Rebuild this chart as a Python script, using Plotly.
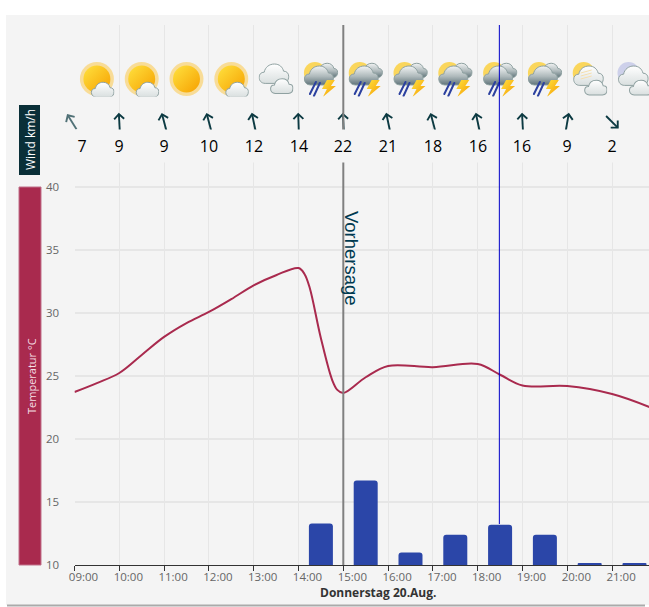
import base64
import plotly.graph_objects as go

DAY = "2020-08-20 "
# temperature curve
temp_times = ["09:00","09:30","10:00","10:30","11:00","11:30","12:00","12:30","13:00","13:30","14:00","14:08","14:15","14:30","14:45","14:52","15:00","15:30","16:00","17:00","18:00","18:30","19:00","20:00","21:00","21:50"]
temp_values = [23.73,24.44,25.24,26.67,28.1,29.2,30.08,31.1,32.2,33.0,33.57,33.1,32.0,28.0,24.7,23.9,23.65,24.9,25.8,25.7,25.95,25.1,24.25,24.2,23.57,22.54]
# precipitation bars
rain_times = ["14:30","15:30","16:30","17:30","18:30","19:30","20:30","21:30"]
rain_values = [3.3,6.7,1.0,2.4,3.2,2.4,0.15,0.15]
# wind row
wind_times = ["09:00","10:00","11:00","12:00","13:00","14:00","15:00","16:00","17:00","18:00","19:00","20:00","21:00"]
wind_speed = [7,9,9,10,12,14,22,21,18,16,16,9,2]
wind_angle = [-32,-3,-15,-15,-12,-2,-3,-12,-15,-12,-3,10,135]
# weather icons
icon_times = ["09:30","10:30","11:30","12:30","13:30","14:30","15:30","16:30","17:30","18:30","19:30","20:30","21:30"]
icon_kinds = ["partly","partly","sun","partly","cloud","storm","storm","storm","storm","storm","storm","haze","moon"]
tick_times = ["09:00","10:00","11:00","12:00","13:00","14:00","15:00","16:00","17:00","18:00","19:00","20:00","21:00"]
temp_ticks = [10,15,20,25,30,35,40]

W, H = 649, 607
PX_HOUR = 44.8
X0 = 74.5
Y_BOT, Y_TOP = 565, 25
PX_DEG = 12.6
def py(p): return 1 - p / H
def t(s): return DAY + s + ":00"
MS = 3600000 / PX_HOUR   # ms per pixel

DEFS = '''<defs>
<linearGradient id="s" x1="0" y1="0" x2="1" y2="1"><stop offset="0" stop-color="#ffe23f"/><stop offset="1" stop-color="#f6a000"/></linearGradient>
<linearGradient id="c" x1="0" y1="0" x2="0" y2="1"><stop offset="0" stop-color="#ffffff"/><stop offset="1" stop-color="#d9dfdf"/></linearGradient>
<linearGradient id="d" x1="0" y1="0" x2="0" y2="1"><stop offset="0" stop-color="#f2f4f4"/><stop offset="0.55" stop-color="#aeb9bb"/><stop offset="1" stop-color="#5f7379"/></linearGradient>
<linearGradient id="l" x1="0" y1="0" x2="1" y2="1"><stop offset="0" stop-color="#ffe23f"/><stop offset="1" stop-color="#f59a00"/></linearGradient>
</defs>'''
CLOUD = "M6 20 C2 20 0 17 0 14 C0 11 2 9 5 9 C6 4 10 1 15 1 C20 1 23 4 24 8 C27 8 29 10 29 13 C29 17 27 20 23 20 Z"
def cloud(tx, ty, s, fill="url(#c)", sw=1.0):
    return f'<g transform="translate({tx} {ty}) scale({s})"><path d="{CLOUD}" fill="{fill}" stroke="#8fa1a1" stroke-width="{sw/s:.2f}"/></g>'
def svg_icon(kind):
    b = ""
    if kind in ("partly", "sun"):
        b += '<circle cx="17" cy="17" r="17" fill="#f8dc97"/><circle cx="17" cy="17" r="13.5" fill="url(#s)"/>'
        if kind == "partly":
            b += cloud(11.5, 19.5, 0.78)
    elif kind == "cloud":
        b += cloud(0, 1, 1.02) + cloud(11.5, 16, 0.77)
    elif kind == "storm":
        b += '<circle cx="11" cy="11" r="11" fill="#fad65c"/>'
        b += cloud(12, 0.5, 0.75, "url(#d)") + cloud(0.5, 3, 1.0, "url(#d)")
        b += '<g stroke="#2c419f" stroke-width="2" stroke-linecap="round"><line x1="12" y1="20" x2="6" y2="32"/><line x1="16" y1="21" x2="10" y2="34"/></g>'
        b += '<path d="M23 18 L31 18 L27 24 L32 24 L19 35 L23 27 L18 27 Z" fill="url(#l)"/>'
    elif kind == "haze":
        b += '<circle cx="11" cy="11" r="11" fill="#fad65c"/>' + cloud(1, 3, 1.02) + cloud(12, 17.5, 0.77)
        b += '<g stroke="#f5dfae" stroke-width="1"><line x1="8" y1="11" x2="19" y2="8"/><line x1="8" y1="14" x2="19" y2="11"/><line x1="8" y1="17" x2="19" y2="14"/></g>'
    else:
        b += '<circle cx="11" cy="11" r="11" fill="#cdd0ea"/>' + cloud(1, 3, 1.02) + cloud(12, 17.5, 0.77)
    return f'<svg xmlns="http://www.w3.org/2000/svg" width="340" height="340" viewBox="-0.5 -0.5 35 35">{DEFS}{b}</svg>'
def svg_arrow(angle):
    return (f'<svg xmlns="http://www.w3.org/2000/svg" width="200" height="200" viewBox="0 0 20 20"><g transform="rotate({angle} 10 10)" '
            'fill="none" stroke="#0c3a42" stroke-width="1.9"><path d="M10 18.5 L10 2"/><path d="M5 7 L10 2 L15 7"/></g></svg>')
def uri(s): return "data:image/svg+xml;base64," + base64.b64encode(s.encode()).decode()

fig = go.Figure()
fig.add_bar(x=[t(s) for s in rain_times], y=rain_values, yaxis="y2", marker=dict(color="#2b46a8", line_width=0),
            width=24 * MS)
fig.add_scatter(x=[t(s) for s in temp_times], y=temp_values, mode="lines",
                line=dict(color="#a92a4e", width=2, shape="spline", smoothing=1))

images = []
for s, k in zip(icon_times, icon_kinds):
    images.append(dict(source=uri(svg_icon(k)), xref="x", yref="paper", x=t(s), y=py(79), sizex=35 * MS, sizey=35 / H,
                       xanchor="center", yanchor="middle", sizing="contain", layer="above"))
for i, (s, a) in enumerate(zip(wind_times, wind_angle)):
    # the first arrow sits on the left plot edge: placed in page units so it is not cut off
    pos = dict(xref="paper", x=72 / W, sizex=20 / W, opacity=0.7) if i == 0 else dict(xref="x", x=t(s), sizex=20 * MS)
    images.append(dict(source=uri(svg_arrow(a)), yref="paper", y=py(122), sizey=20 / H,
                       xanchor="center", yanchor="middle", sizing="contain", layer="above", **pos))

shapes = [
    dict(type="rect", xref="paper", yref="paper", x0=6 / W, x1=1, y0=py(605), y1=py(15), fillcolor="#f4f4f4", line_width=0, layer="below"),
    dict(type="line", xref="paper", yref="paper", x0=7 / W, x1=645 / W, y0=py(605.5), y1=py(605.5), line=dict(color="#aaaaaa", width=2), layer="below"),
    dict(type="rect", xref="paper", yref="paper", x0=19 / W, x1=40 / W, y0=py(175), y1=py(105), fillcolor="#0a2f38", line_width=0),
    dict(type="rect", xref="paper", yref="paper", x0=19 / W, x1=41 / W, y0=py(565), y1=py(187), fillcolor="#a92a4e", line=dict(color="#c0708a", width=1)),
    dict(type="line", xref="x", yref="paper", x0=t("15:00"), x1=t("15:00"), y0=py(Y_BOT), y1=py(Y_TOP), line=dict(color="#808080", width=2), layer="above"),
    dict(type="line", xref="x", yref="paper", x0=t("18:29"), x1=t("18:29"), y0=py(524), y1=py(Y_TOP), line=dict(color="#0000c8", width=1), layer="above"),
]
CENTER = dict(xanchor="center", yanchor="middle", showarrow=False)
annotations = [
    dict(text="Wind km/h", textangle=-90, xref="paper", yref="paper", x=30 / W, y=py(140), font=dict(family="Open Sans", size=12, color="white"), **CENTER),
    dict(text="Temperatur °C", textangle=-90, xref="paper", yref="paper", x=31 / W, y=py(376), font=dict(family="Open Sans", size=11, color="#f4dfe4"), **CENTER),
    dict(text="Vorhersage", textangle=90, xref="paper", yref="paper", x=352 / W, y=py(258), font=dict(family="Liberation Sans", size=18.5, color="#003a50"), **CENTER),
    dict(text="<b>Donnerstag 20.Aug.</b>", xref="paper", yref="paper", x=378 / W, y=py(592), font=dict(family="Open Sans", size=12, color="#333333"), **CENTER),
]
for i, (s, v) in enumerate(zip(wind_times, wind_speed)):
    annotations.append(dict(text=str(v), xref="x", yref="paper", x=t(s), y=py(146), xshift=7 if i == 0 else 0,
                            width=26, height=30, bgcolor="#f4f4f4", font=dict(family="Open Sans", size=16, color="#000000"), **CENTER))

fig.update_layout(
    width=W, height=H, autosize=False, margin=dict(l=0, r=0, t=0, b=0, autoexpand=False), paper_bgcolor="white", plot_bgcolor="rgba(0,0,0,0)",
    showlegend=False, images=images, shapes=shapes, annotations=annotations, barcornerradius=3,
    xaxis=dict(type="date", domain=[X0 / W, 1], range=[t("09:00"), DAY + "21:49:26"], tickvals=[t(s) for s in tick_times], tickformat="%H:%M",
               ticks="outside", ticklen=5, tickcolor="#333333", showline=True, linecolor="#333333", linewidth=1, showgrid=True,
               gridcolor="#e6e6e6", gridwidth=1, ticklabelshift=9, ticklabelstandoff=-4, tickfont=dict(family="Open Sans", size=11.5, color="#666666")),
    yaxis=dict(domain=[py(Y_BOT), py(Y_TOP)], range=[10, 10 + (Y_BOT - Y_TOP) / PX_DEG], tickvals=temp_ticks, showgrid=True, gridcolor="#e6e6e6",
               gridwidth=2, zeroline=False, ticks="outside", ticklen=12, tickcolor="rgba(0,0,0,0)", tickfont=dict(family="Open Sans", size=11.5, color="#666666")),
    yaxis2=dict(domain=[py(Y_BOT), py(Y_TOP)], overlaying="y", range=[0, (Y_BOT - Y_TOP) / PX_DEG], visible=False),
)
fig.write_html("out.html", post_script="document.body.style.margin='0';", config=dict(displayModeBar=False))
